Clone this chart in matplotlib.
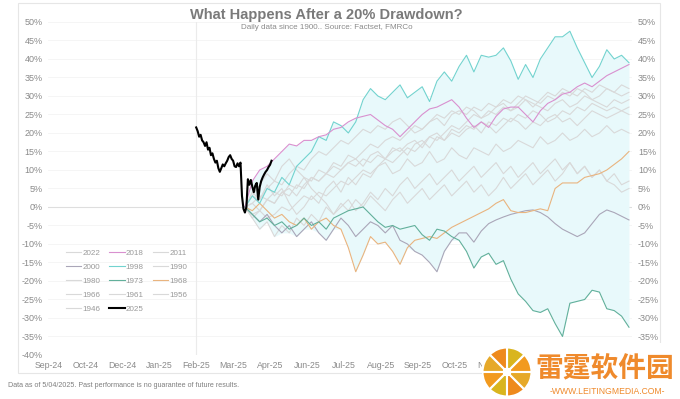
import matplotlib.pyplot as plt
import numpy as np
from matplotlib.patches import Rectangle, Wedge

plt.rcParams['font.family'] = ['Liberation Sans', 'DejaVu Sans']

# x axis: trading-day index, a label every 25 days (later labels sit under the watermark)
x_ticks = [0, 25, 50, 75, 100, 125, 150, 175, 200, 225, 250, 275, 300]
x_labels = ["Sep-24", "Oct-24", "Dec-24", "Jan-25", "Feb-25", "Mar-25", "Apr-25", "Jun-25",
            "Jul-25", "Aug-25", "Sep-25", "Oct-25", "Nov-25"]
y_ticks = [-40, -35, -30, -25, -20, -15, -10, -5, 0, 5, 10, 15, 20, 25, 30, 35, 40, 45, 50]
y_ticks_right = [-35, -30, -25, -20, -15, -10, -5, 0, 5, 10, 15, 20, 25, 30, 35, 40, 45, 50]

# 2025 path (% from the drawdown point)
days_2025 = list(range(100, 152))
y2025 = [21.5, 20.5, 19, 19.5, 18, 17.5, 16.5, 17.5, 15.5, 16,
         14, 14.5, 13, 12, 12.5, 10.5, 9.5, 10.5, 11.5, 11,
         11.8, 12.5, 13.5, 14, 13, 12.5, 11, 10.8, 11.8, 11,
         12, 3, -0.5, -1.5, 0, 7.5, 6, 7.3, 5.5, 4,
         5.8, 6.5, 2, 5.4, 7, 8, 8.8, 9.5, 10, 10.8,
         11.4, 12.5]

# past episodes, sampled every 5 trading days after the 20% drawdown
hist_start = 133
hist_offsets = list(range(0, 261, 5))

y1998 = [0, 3, 1, 5, 4, 8, 6, 11, 13, 15,
         19, 18, 23, 22, 20, 23, 29, 32, 30, 29,
         31, 33, 29.5, 31, 32.5, 28.5, 34, 36.5, 34, 38,
         41, 36.5, 41, 40.5, 41, 43, 39.5, 34.5, 38.5, 35,
         40, 43, 46, 46, 47.5, 43, 39, 35, 38, 42.5,
         40, 41, 39]
y2018 = [0, 7, 10, 11, 13, 15, 17, 16.5, 18, 18,
         19, 19.5, 21, 21.5, 23, 24, 24.5, 25, 23.5, 22,
         21, 19, 21, 23, 25, 26.5, 27, 28, 29, 27,
         24, 21.5, 23, 21.5, 24.5, 26.5, 27, 27, 25, 23,
         26, 28, 29, 30.5, 31, 32.5, 33.5, 32.5, 34, 35.5,
         36.5, 37.5, 38.5]
y1973 = [0, -2, -4, -3, -5, -4, -6, -5, -3, -5,
         -4, -6, -3, -2, -1, -0.5, 0, -2, -4, -5.5,
         -5, -6, -5.5, -5, -7.5, -9, -6, -6.5, -8, -9,
         -12, -16.5, -13.5, -12.5, -15.5, -14.5, -19.5, -23.5, -25.5, -28,
         -28.5, -27.5, -31.5, -35, -26, -25.5, -25, -22.5, -23, -27.5,
         -28, -29.5, -32.5]
y1968 = [0, -1, 1, -1, -3, -2, -4, -5, -3, -6,
         -4, -3, -5, -6, -11, -17.5, -13, -8, -10, -9.5,
         -12, -15.5, -11, -9, -8.5, -8, -8.5, -7, -5.5, -4.5,
         -3.5, -2.5, -1.5, -0.5, 1, 2, -1, -1.5, -1.5, -1,
         -0.5, -1, 5, 6.5, 6.5, 6.5, 8, 8.5, 9, 10,
         11.5, 13, 15]
y2000 = [0, -2, -4, -2, -5, -7, -5, -8, -6, -4,
         -7, -9, -6, -3, -5, -8, -6, -4, -5, -7,
         -5, -9, -10, -12, -13, -15, -17.5, -12, -9, -7,
         -7, -9.5, -6.5, -4.5, -3.5, -2.7, -2, -1.5, -1, -0.8,
         -1.5, -2.7, -4.5, -6, -7, -8, -7, -4.5, -2, -0.8,
         -1.5, -2.5, -3.5]
y1961 = [0, 1, -1, 2, 4, 3, 6, 5, 8, 7,
         10, 9, 12, 11, 14, 13, 15, 17, 16, 18,
         19, 18, 20, 22, 21, 23, 24, 22, 25, 26,
         25, 27, 26, 28, 27, 29, 28, 30, 29, 27,
         29, 31, 30, 32, 31, 30, 32, 31, 33, 32,
         31, 33, 32]
y1966 = [0, -2, -1, -3, -2, 0, -1, 1, 3, 2,
         4, 3, 5, 7, 6, 8, 10, 9, 11, 13,
         12, 14, 16, 15, 17, 19, 18, 20, 22, 21,
         23, 25, 24, 26, 25, 27, 26, 28, 30, 29,
         28, 30, 29, 31, 30, 32, 31, 29, 30, 32,
         31, 30, 31]
y1956 = [0, 3, 2, 5, 7, 6, 9, 11, 10, 13,
         15, 14, 16, 18, 17, 19, 21, 20, 22, 21,
         23, 24, 22, 20, 21, 23, 25, 24, 26, 25,
         27, 26, 24, 25, 27, 28, 26, 27, 29, 28,
         27, 26, 28, 29, 27, 28, 30, 29, 28, 27,
         29, 28, 29]
y1990 = [0, 1, 3, 2, 1, 4, 5, 3, 6, 8,
         7, 9, 8, 10, 12, 11, 13, 12, 14, 13,
         15, 16, 14, 17, 18, 16, 19, 18, 20, 19,
         21, 22, 20, 23, 22, 24, 23, 25, 24, 26,
         25, 23, 24, 26, 25, 27, 26, 28, 27, 26,
         27, 26, 27]
y1980 = [0, -3, -1, 2, 1, 4, 3, 6, 5, 8,
         7, 9, 11, 10, 12, 13, 11, 14, 15, 13,
         16, 15, 17, 18, 16, 19, 20, 18, 21, 20,
         22, 21, 23, 22, 20, 22, 24, 23, 21, 23,
         22, 24, 25, 23, 24, 22, 24, 26, 25, 24,
         25, 26, 25]
y2011 = [0, 4, 2, 6, 3, 5, 1, -2, 0, 3,
         1, 5, 7, 4, 8, 6, 9, 8, 11, 12,
         9, 10, 13, 11, 12, 15, 12, 13, 16, 14,
         13, 16, 15, 14, 17, 15, 16, 18, 17, 16,
         19, 17, 18, 20, 18, 19, 21, 19, 20, 22,
         20, 21, 20]
y2022 = [0, 3, 6, 9, 7, 11, 13, 10, 8, 5,
         3, 1, -2, 0, 2, -1, 1, 4, 2, 5,
         3, 6, 8, 5, 7, 9, 6, 8, 10, 7,
         9, 11, 8, 10, 12, 9, 11, 8, 10, 12,
         9, 11, 13, 10, 12, 9, 11, 8, 10, 7,
         9, 6, 7]
y1946 = [0, -3, -6, -4, -8, -5, -7, -3, -5, -2,
         -4, 0, -2, 1, -1, 2, 0, 3, 1, -1,
         2, 4, 1, 3, 5, 2, 4, 6, 3, 5,
         7, 4, 6, 3, 5, 8, 5, 7, 9, 6,
         8, 10, 7, 9, 12, 9, 11, 8, 10, 7,
         6, 4, 5]

gray = "#d9d9d9"
episodes = [
    ("2022", y2022, gray), ("2011", y2011, gray), ("1990", y1990, gray),
    ("1980", y1980, gray), ("1966", y1966, gray), ("1961", y1961, gray),
    ("1956", y1956, gray), ("1946", y1946, gray),
    ("2000", y2000, "#aaa6b8"), ("1968", y1968, "#e9b47f"),
    ("1973", y1973, "#62b09b"), ("1998", y1998, "#72d3cf"),
    ("2018", y2018, "#d990cf"),
]
legend_order = ["2022", "2000", "1980", "1966", "1946",
                "2018", "1998", "1973", "1961", "2025",
                "2011", "1990", "1968", "1956"]

fig = plt.figure(figsize=(6.8, 3.99), dpi=100)
fig.patches.append(Rectangle((0.0265, 0.065), 0.944, 0.927, transform=fig.transFigure,
                             fill=False, edgecolor="#e6e6e6", lw=0.8, zorder=0))
ax = fig.add_axes([0.0713, 0.1103, 0.858, 0.8346])

hx = np.array(hist_offsets) + hist_start
allv = np.array([e[1] for e in episodes])
ax.fill_between(hx, allv.min(axis=0), allv.max(axis=0), color="#e8f9fb", lw=0, zorder=1)

for y in y_ticks:
    ax.axhline(y, color="#f4f4f4", lw=0.6, zorder=0)
ax.axhline(0, color="#dedede", lw=0.8, zorder=0.5)
ax.axvline(100, color="#ebebeb", lw=0.8, zorder=0.5)

handles = {}
for i, (name, vals, col) in enumerate(episodes):
    ln, = ax.plot(hx, vals, color=col, lw=0.8, zorder=2 + i * 0.01)
    handles[name] = ln
ln, = ax.plot(days_2025, y2025, color="black", lw=1.5, zorder=4)
handles["2025"] = ln

ax.set_xlim(0, 395)
ax.set_ylim(-40, 50)
ax.set_xticks(x_ticks)
ax.set_xticklabels(x_labels)
ax.set_yticks(y_ticks)
ax.set_yticklabels([f"{v}%" for v in y_ticks])
ax.tick_params(axis="y", length=0, labelsize=6.5, labelcolor="#8a8a8a", pad=4.3)
ax.tick_params(axis="x", length=0, labelsize=6.3, labelcolor="#8a8a8a", pad=4.3)
for s in ax.spines.values():
    s.set_visible(False)
ax.set_facecolor("none")

ax2 = ax.twinx()
ax2.set_ylim(-40, 50)
ax2.set_yticks(y_ticks_right)
ax2.set_yticklabels([f"{v}%" for v in y_ticks_right])
ax2.tick_params(axis="y", length=0, labelsize=6.5, labelcolor="#8a8a8a", pad=4.3)
for s in ax2.spines.values():
    s.set_visible(False)

leg = ax.legend([handles[n] for n in legend_order], legend_order, ncol=3,
                loc="upper left", bbox_to_anchor=(66 / 680, 1 - 249 / 399),
                bbox_transform=fig.transFigure, frameon=False, fontsize=5.8,
                handlelength=1.9, handletextpad=0.15, columnspacing=1.1,
                labelspacing=0.8, borderpad=0, borderaxespad=0)
for t in leg.get_texts():
    t.set_color("#999999")

fig.text(0.48, 0.963, "What Happens After a 20% Drawdown?", ha="center", va="center",
         fontsize=10.5, fontweight="bold", color="#7a7a7a")
fig.text(0.48, 0.932, "Daily data since 1900.. Source: Factset, FMRCo", ha="center",
         va="center", fontsize=5.8, color="#8a8a8a")
fig.text(0.012, 0.033, "Data as of 5/04/2025. Past performance is no guarantee of future results.",
         ha="left", va="center", fontsize=5.1, color="#7f7f7f")

# site watermark in the lower right corner
fig.patches.append(Rectangle((0.709, 0), 0.291, 0.14, transform=fig.transFigure,
                             facecolor="white", edgecolor="none", zorder=5))
lax = fig.add_axes([482 / 680, 2 / 399, 50 / 680, 50 / 399], zorder=6)
lax.set_xlim(-1, 1)
lax.set_ylim(-1, 1)
lax.set_aspect("equal")
lax.axis("off")
wcols = ["#f29a1f", "#d9b51e", "#ee8a1c", "#e6a92a", "#f29a1f", "#d9b51e", "#ee8a1c", "#e6a92a"]
for k, c in enumerate(wcols):
    lax.add_patch(Wedge((0, 0), 0.98, k * 45, (k + 1) * 45, width=0.85,
                        facecolor=c, edgecolor="white", lw=1.5))
fig.text(0.787, 0.073, "雷霆软件园", ha="left", va="center", fontsize=20,
         fontweight="bold", color="#ef8a2c", family=["Noto Sans CJK SC", "DejaVu Sans"],
         zorder=7)
fig.text(0.893, 0.02, "-WWW.LEITINGMEDIA.COM-", ha="center", va="center",
         fontsize=6.2, color="#ef8a2c", zorder=7)

fig.savefig("out.png", dpi=100)
